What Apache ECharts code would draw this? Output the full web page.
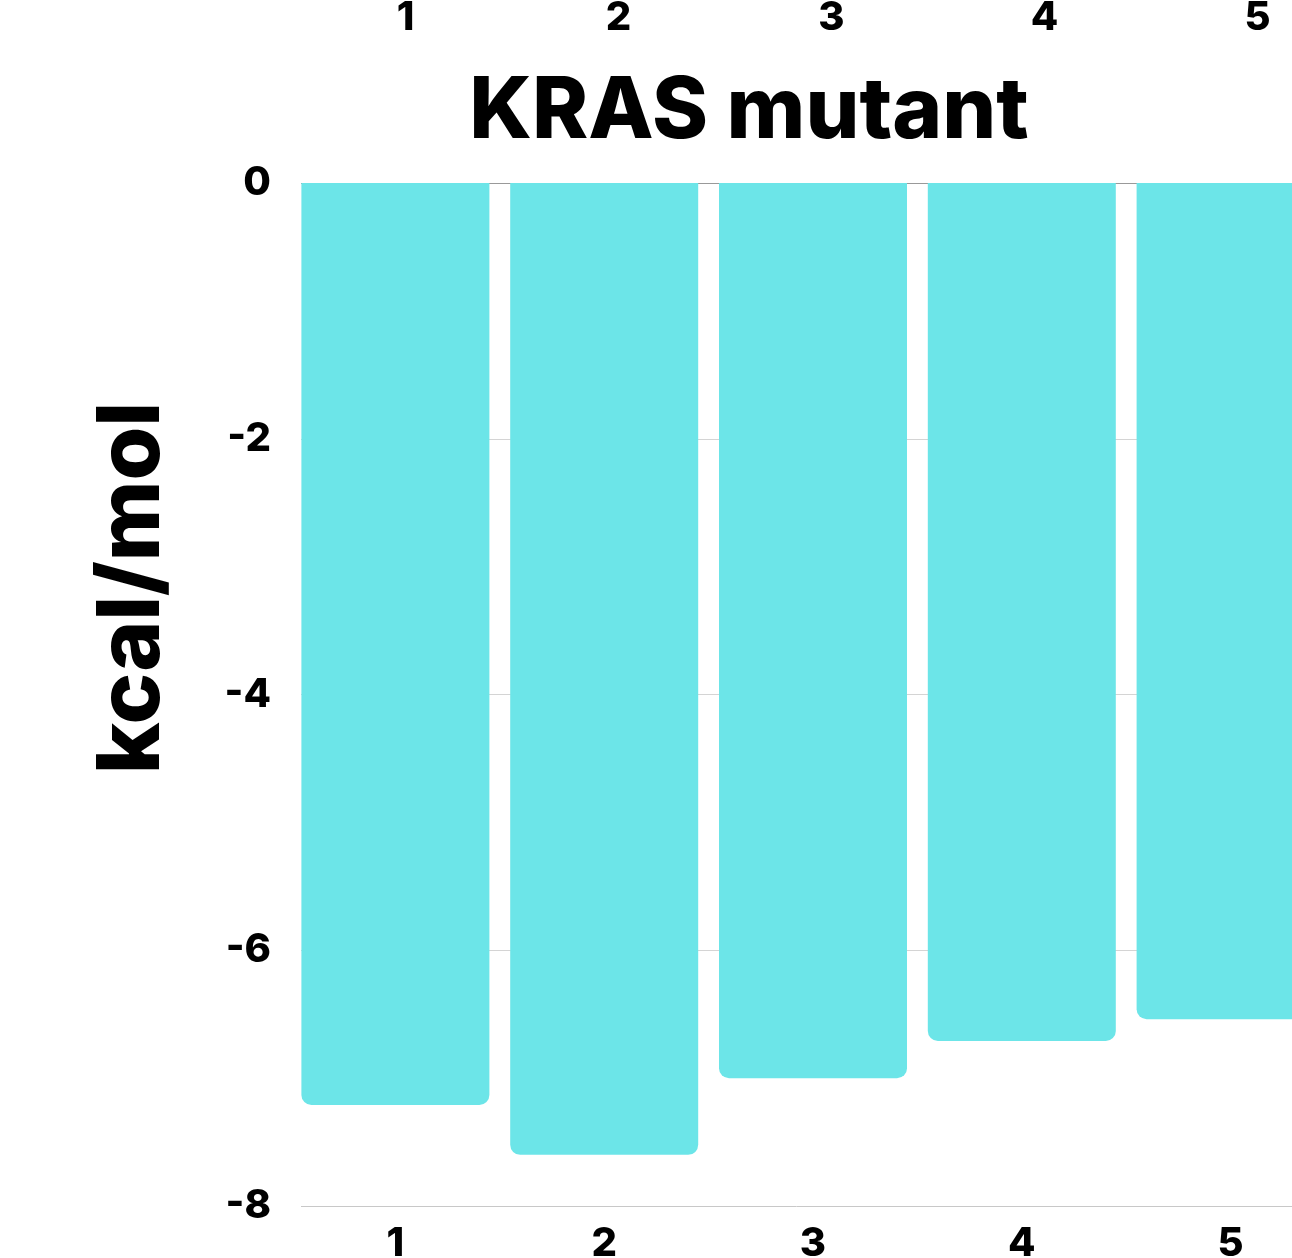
<!DOCTYPE html>
<html><head><meta charset="utf-8">
<script src="https://cdn.jsdelivr.net/npm/echarts@6/dist/echarts.min.js"></script>
<style>html,body{margin:0;padding:0;background:#fff}#c{width:1292px;height:1258px}</style>
</head><body><div id="c"></div>
<script>
const categories = ['1', '2', '3', '4', '5'];
const values = [-7.21, -7.60, -7.00, -6.71, -6.54];
const yTicks = [0, -2, -4, -6, -8];
const title = 'KRAS mutant';
const yName = 'kcal/mol';

const FONT = 'Inter, "Noto Sans", sans-serif';
const chart = echarts.init(document.getElementById('c'));
chart.setOption({
  animation: false,
  backgroundColor: '#fff',
  title: {
    text: title, left: 744, top: 65, textAlign: 'center',
    textStyle: {fontFamily: FONT, fontWeight: 800, fontSize: 85, color: '#000'}
  },
  graphic: [{
    type: 'text', x: 133, y: 588, rotation: Math.PI / 2,
    style: {text: yName, fontFamily: FONT, fontWeight: 800, fontSize: 87, fill: '#000',
            align: 'center', verticalAlign: 'middle'}
  }],
  grid: [
    {left: 291, top: 183, width: 1044, height: 1023, outerBoundsMode: 'none', containLabel: false},
    {left: 299, top: 46, width: 1065, height: 1, outerBoundsMode: 'none', containLabel: false},
    {left: 301, top: 183, width: 991, height: 1023, outerBoundsMode: 'none', containLabel: false}
  ],
  xAxis: [
    {type: 'category', gridIndex: 0, data: categories, position: 'bottom',
     axisLine: {show: false, onZero: false},
     axisTick: {show: false},
     axisLabel: {margin: 18, fontFamily: FONT, fontWeight: 800, fontSize: 40, color: '#000'}},
    {type: 'category', gridIndex: 1, data: categories, position: 'top',
     axisLine: {show: false}, axisTick: {show: false},
     axisLabel: {margin: 8, fontFamily: FONT, fontWeight: 800, fontSize: 40, color: '#000'}},
    {type: 'category', gridIndex: 2, data: categories, show: false}
  ],
  yAxis: [
    {type: 'value', gridIndex: 0, min: -8, max: 0, interval: 2, show: false, splitLine: {show: false}},
    {type: 'value', gridIndex: 1, show: false},
    {type: 'value', gridIndex: 2, min: -8, max: 0, interval: 2, z: 0,
     axisLine: {show: false}, axisTick: {show: false},
     axisLabel: {margin: 30, fontFamily: FONT, fontWeight: 800, fontSize: 40, color: '#000',
       formatter: v => yTicks.includes(v) ? String(v) : ''},
     splitLine: {show: true, lineStyle: {color: ['#c8c8c8', '#d4d4d4', '#d4d4d4', '#d4d4d4', '#999'], width: 1}}}
  ],
  series: [{
    type: 'bar', xAxisIndex: 0, yAxisIndex: 0, data: values,
    barWidth: 188, z: 5,
    itemStyle: {color: '#6ce5e8', borderRadius: [0, 0, 10, 10]}
  }]
});
</script></body></html>
